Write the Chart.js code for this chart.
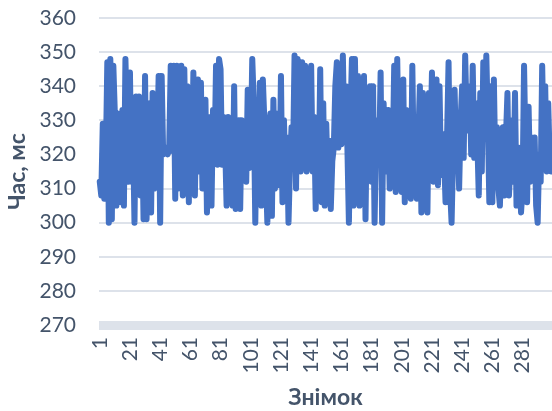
<!DOCTYPE html>
<html>
<head>
<meta charset="utf-8">
<script src="https://cdn.jsdelivr.net/npm/chart.js@4/dist/chart.umd.min.js"></script>
<style>
  html, body { margin: 0; padding: 0; background: #ffffff; }
  #wrap { width: 552px; height: 411px; }
</style>
</head>
<body>
<div id="wrap"><canvas id="chart" width="552" height="411"></canvas></div>
<script>
// Response time per frame, ms (frames 1..300)
const timesMs = [
  312, 308, 329, 307, 318, 347, 300, 348, 301, 346, 332, 305, 332, 331, 306, 333, 305, 348, 330, 312,
  344, 312, 327, 300, 337, 320, 337, 308, 330, 301, 343, 301, 322, 335, 303, 338, 310, 326, 321, 343,
  300, 343, 320, 321, 322, 320, 322, 346, 321, 346, 307, 346, 310, 330, 346, 308, 345, 316, 340, 306,
  338, 312, 344, 308, 335, 342, 315, 341, 310, 328, 336, 303, 331, 320, 305, 333, 318, 346, 317, 348,
  345, 317, 331, 324, 305, 331, 322, 330, 305, 340, 304, 321, 330, 304, 330, 318, 326, 312, 339, 316,
  322, 348, 335, 300, 330, 312, 341, 305, 342, 330, 315, 300, 328, 332, 302, 336, 310, 318, 332, 311,
  343, 306, 330, 312, 325, 300, 317, 328, 319, 349, 310, 348, 331, 315, 347, 320, 346, 315, 338, 316,
  346, 315, 331, 304, 328, 312, 345, 306, 335, 305, 329, 312, 324, 304, 318, 322, 340, 347, 322, 345,
  323, 349, 324, 340, 322, 300, 330, 348, 305, 348, 320, 343, 305, 341, 310, 343, 301, 335, 320, 340,
  312, 340, 300, 325, 330, 318, 344, 300, 335, 315, 328, 333, 310, 325, 318, 346, 309, 348, 320, 331,
  309, 342, 306, 333, 320, 328, 307, 346, 315, 330, 307, 325, 340, 303, 338, 310, 330, 303, 338, 322,
  344, 312, 335, 342, 311, 340, 314, 326, 320, 306, 325, 347, 310, 300, 320, 339, 319, 325, 310, 330,
  340, 319, 349, 330, 327, 340, 320, 346, 319, 335, 325, 308, 338, 315, 347, 327, 349, 330, 306, 340,
  306, 342, 315, 328, 310, 305, 320, 328, 308, 325, 338, 308, 318, 330, 312, 338, 305, 322, 316, 303,
  310, 346, 320, 306, 334, 312, 325, 318, 325, 305, 300, 320, 312, 346, 322, 340, 315, 335, 318, 315
];

// Frame numbers used as category labels
const frames = timesMs.map((_, i) => String(i + 1));

// Y-axis range and step
const yMin = 270;
const yMax = 360;
const yStep = 10;

// Every 20th frame gets a tick label
const labelEvery = 20;

const axisTitleX = 'Знімок';
const axisTitleY = 'Час, мс';

const textColor = '#44546A';
const gridColor = '#DDE2EA';
const lineColor = '#4472C4';
const fontFamily = 'Lato, "Open Sans", "Liberation Sans", sans-serif';

new Chart(document.getElementById('chart'), {
  type: 'line',
  data: {
    labels: frames,
    datasets: [{
      data: timesMs,
      borderColor: lineColor,
      backgroundColor: lineColor,
      borderWidth: 6,
      borderJoinStyle: 'round',
      borderCapStyle: 'round',
      pointRadius: 0,
      tension: 0,
      fill: false
    }]
  },
  options: {
    responsive: false,
    animation: false,
    devicePixelRatio: 1,
    layout: { padding: { top: 18, right: 0, left: 0, bottom: 0 } },
    plugins: {
      legend: { display: false },
      tooltip: { enabled: false }
    },
    scales: {
      x: {
        type: 'category',
        offset: true,
        grid: { display: false, drawTicks: false },
        border: { display: false },
        ticks: {
          autoSkip: false,
          minRotation: 90,
          maxRotation: 90,
          padding: 12,
          color: textColor,
          font: { family: fontFamily, size: 21 },
          callback: function (value, index) {
            return index % labelEvery === 0 ? frames[index] : '';
          }
        },
        title: {
          display: true,
          text: axisTitleX,
          color: textColor,
          font: { family: fontFamily, size: 23, weight: 'bold' },
          padding: { top: 0, bottom: 0 }
        },
        afterFit: function (scale) {
          scale.height = 86;
          scale.paddingLeft = 0;
          scale.paddingRight = 0;
        }
      },
      y: {
        min: yMin,
        max: yMax,
        grid: {
          color: gridColor,
          drawTicks: false,
          lineWidth: function (ctx) { return ctx.tick && ctx.tick.value === yMin ? 9 : 2; }
        },
        border: { display: false },
        ticks: {
          stepSize: yStep,
          padding: 23,
          color: textColor,
          font: { family: fontFamily, size: 21 }
        },
        title: {
          display: true,
          text: axisTitleY,
          color: textColor,
          font: { family: fontFamily, size: 23, weight: 'bold' },
          padding: { top: 4, bottom: 0 }
        },
        afterFit: function (scale) {
          scale.width = 99;
          scale.paddingTop = 0;
          scale.paddingBottom = 0;
        }
      }
    }
  }
});
</script>
</body>
</html>
